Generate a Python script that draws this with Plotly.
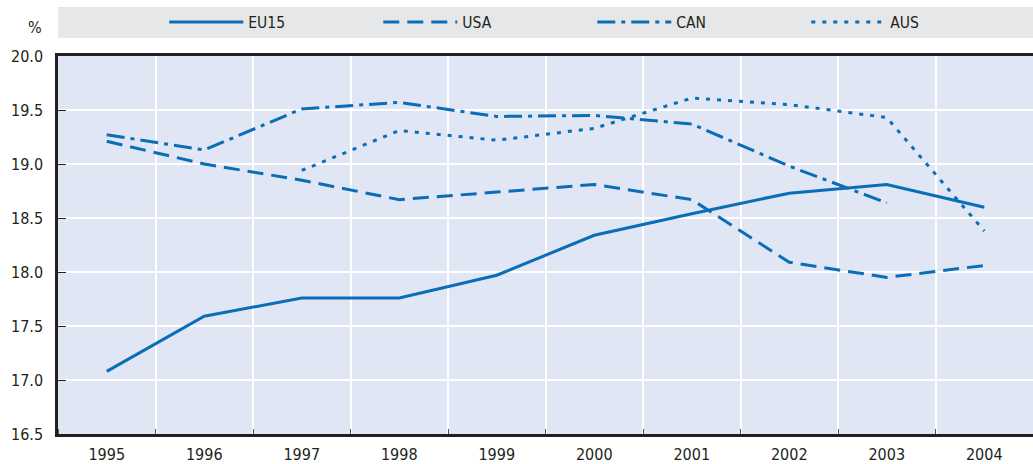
import plotly.graph_objects as go

years = [1995, 1996, 1997, 1998, 1999, 2000, 2001, 2002, 2003, 2004]
eu15 = [17.08, 17.59, 17.76, 17.76, 17.97, 18.34, 18.54, 18.73, 18.81, 18.60]
usa = [19.21, 19.00, 18.85, 18.67, 18.74, 18.81, 18.67, 18.09, 17.95, 18.06]
can = [19.27, 19.13, 19.51, 19.57, 19.44, 19.45, 19.37, 18.98, 18.64, None]
aus = [None, None, 18.94, 19.31, 19.22, 19.33, 19.61, 19.55, 19.43, 18.38]

series = [
    ("EU15", eu15, "solid"),
    ("USA", usa, "16px,8px"),
    ("CAN", can, "18px,6px,4px,6px"),
    ("AUS", aus, "4px,7px"),
]

LINE = "#0a6db7"
TEXT = "#231f20"
FONT = "DejaVu Sans Condensed, Liberation Sans Narrow, Arial Narrow, sans-serif"
FS = 16

fig = go.Figure()
for name, vals, dash in series:
    fig.add_trace(go.Scatter(
        x=years, y=vals, name=name, mode="lines",
        line=dict(color=LINE, width=3, dash=dash),
        connectgaps=False,
    ))

fig.update_layout(
    width=1033, height=464,
    margin=dict(l=58, r=0, t=56, b=30, autoexpand=False),
    paper_bgcolor="white",
    plot_bgcolor="#e0e6f4",
    font=dict(family=FONT, size=FS, color=TEXT),
    showlegend=True,
    legend=dict(
        orientation="h", x=0.109, xanchor="left", y=1.0886, yanchor="middle",
        bgcolor="rgba(0,0,0,0)", entrywidth=125, entrywidthmode="pixels",
        itemwidth=74, font=dict(family=FONT, size=15.5, color=TEXT),
        traceorder="normal",
    ),
    shapes=[dict(
        type="rect", xref="paper", yref="paper",
        x0=0, x1=1, y0=1.0476, y1=1.1296,
        fillcolor="#e6e7e8", line=dict(width=0), layer="below",
    )],
    annotations=[dict(
        text="%", xref="paper", yref="paper", x=-0.0236, y=1.076,
        xanchor="center", yanchor="middle", showarrow=False,
        font=dict(family=FONT, size=FS, color=TEXT),
    )],
)

fig.update_xaxes(
    range=[1994.5, 2004.5], automargin=False,
    tickmode="array", tickvals=years, ticktext=[str(y) for y in years],
    showgrid=False, ticks="", ticklen=0, ticklabelstandoff=4,
    showline=True, linecolor=TEXT, linewidth=2.5, mirror=True,
    zeroline=False,
    minor=dict(tick0=1994.5, dtick=1, showgrid=True, gridcolor="white",
               gridwidth=1.5, ticks="inside", ticklen=5, tickcolor="#555555"),
    tickfont=dict(family=FONT, size=FS, color=TEXT),
)
fig.update_yaxes(
    range=[16.5, 20.0], dtick=0.5, tick0=16.5, tickformat=".1f", automargin=False,
    showgrid=True, gridcolor="white", gridwidth=1.5,
    ticks="inside", ticklen=8, tickcolor=TEXT, tickwidth=1, ticklabelstandoff=9,
    showline=True, linecolor=TEXT, linewidth=2.5,
    zeroline=False,
    tickfont=dict(family=FONT, size=FS, color=TEXT),
)

fig.write_html("out.html", config={"displayModeBar": False},
               post_script="document.body.style.margin='0';")
